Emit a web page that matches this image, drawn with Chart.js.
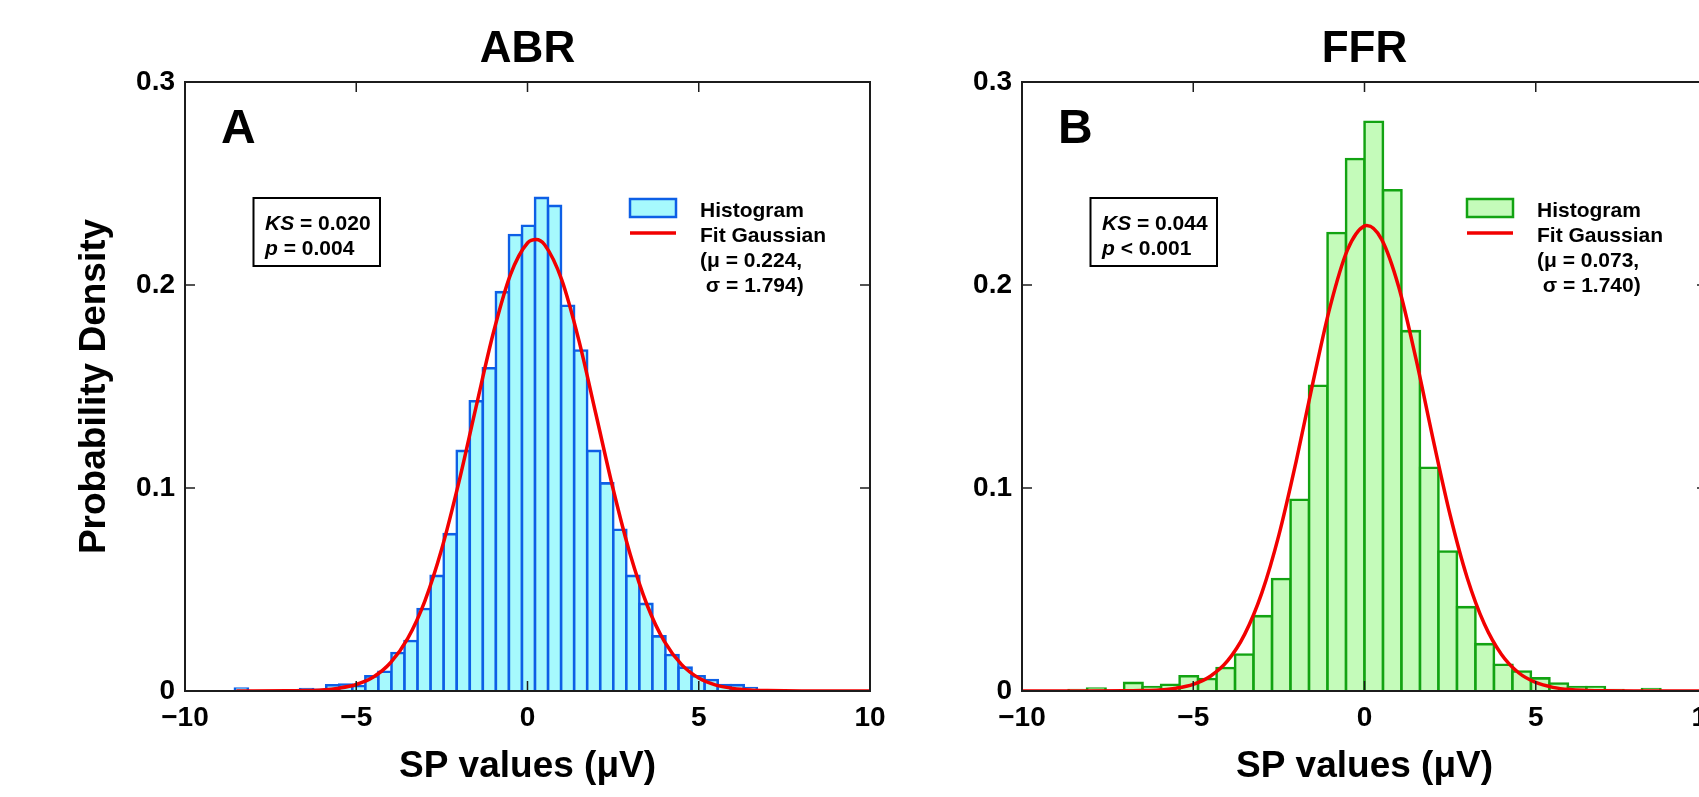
<!DOCTYPE html>
<html>
<head>
<meta charset="utf-8">
<script src="https://cdn.jsdelivr.net/npm/chart.js@4.4.1/dist/chart.umd.min.js"></script>
<style>
html,body{margin:0;padding:0;background:#fff;overflow:hidden;width:1699px;height:797px;}
canvas{position:absolute;top:0;}
#cA{left:0;}
#cB{left:837px;}
</style>
</head>
<body>
<canvas id="cA" width="900" height="797"></canvas>
<canvas id="cB" width="900" height="797"></canvas>
<script>
// ---------- data ----------
const abrBinCenters = [-8.3535,-7.9725,-7.5915,-7.2105,-6.8295,-6.4485,-6.0675,-5.6865,-5.3055,-4.9245,
  -4.5435,-4.1625,-3.7815,-3.4005,-3.0195,-2.6385,-2.2575,-1.8765,-1.4955,-1.1145,
  -0.7335,-0.3525,0.0285,0.4095,0.7905,1.1715,1.5525,1.9335,2.3145,2.6955,
  3.0765,3.4575,3.8385,4.2195,4.6005,4.9815,5.3625,5.7435,6.1245,6.5055];
const abrDensity = [0.0012,0,0,0,0,0.0010,0.0006,0.0028,0.0032,0.0025,
  0.0072,0.0095,0.0187,0.0246,0.0404,0.0567,0.0773,0.1183,0.1427,0.1590,
  0.1965,0.2246,0.2292,0.2429,0.2390,0.1898,0.1677,0.1183,0.1023,0.0794,
  0.0567,0.0429,0.0269,0.0177,0.0115,0.0073,0.0054,0.0029,0.0029,0.0015];
const abrFitX = [-8.5,-8,-7,-6.5,-6,-5.5,-5,-4.5,-4,-3.5,-3,-2.5,-2,-1.5,-1,-0.5,0,0.25,0.5,1,1.5,2,2.5,3,3.5,4,4.5,5,5.5,6,6.5,7,8,10];
const abrFitY = [0,0,0.0001,0.0002,0.0005,0.0014,0.0032,0.0069,0.0139,0.0258,0.0442,0.0702,0.1031,0.1401,0.1762,0.2050,0.2207,0.2224,0.2198,0.2025,0.1727,0.1362,0.0995,0.0672,0.0420,0.0243,0.0130,0.0064,0.0029,0.0013,0.0005,0.0002,0,0];

const ffrBinCenters = [-8.37,-7.83,-7.29,-6.75,-6.21,-5.67,-5.13,-4.59,-4.05,-3.51,
  -2.97,-2.43,-1.89,-1.35,-0.81,-0.27,0.27,0.81,1.35,1.89,
  2.43,2.97,3.51,4.05,4.59,5.13,5.67,6.21,6.75,7.29,7.83,8.37];
const ffrDensity = [0.0005,0.0012,0,0.0040,0.0020,0.0031,0.0073,0.0059,0.0113,0.0180,
  0.0369,0.0552,0.0942,0.1504,0.2256,0.2621,0.2804,0.2467,0.1773,0.1100,
  0.0687,0.0413,0.0231,0.0129,0.0096,0.0062,0.0037,0.0020,0.0020,0.0005,0,0.0010];
const ffrFitX = [-10,-8,-7,-6.5,-6,-5.5,-5,-4.5,-4,-3.5,-3,-2.5,-2,-1.5,-1,-0.5,0,0.07,0.5,1,1.5,2,2.5,3,3.5,4,4.5,5,5.5,6,6.5,7,8,10];
const ffrFitY = [0,0,0.0001,0.0002,0.0005,0.0014,0.0033,0.0073,0.0148,0.0279,0.0482,0.0768,0.1128,0.1524,0.1896,0.2172,0.2291,0.2293,0.2225,0.1990,0.1638,0.1242,0.0867,0.0557,0.0330,0.0180,0.0090,0.0042,0.0018,0.0007,0.0003,0.0001,0,0];

const xTickValues = [-10,-5,0,5,10];
const xTickLabels = ['\u221210','\u22125','0','5','10'];
const yTickValues = [0,0.1,0.2,0.3];
const yTickLabels = ['0','0.1','0.2','0.3'];

const panelTitles = ['ABR','FFR'];
const panelLetters = ['A','B'];
const ksValues = ['0.020','0.044'];
const pValues = ['= 0.004','< 0.001'];
const fitMu = ['0.224','0.073'];
const fitSigma = ['1.794','1.740'];
const xAxisTitle = 'SP values (\u03bcV)';
const yAxisTitle = 'Probability Density';
// ------------------------------------------------------------

const FONT = '"Liberation Sans", Arial, Helvetica, sans-serif';

const annotPlugin = {
  id: 'annot',
  afterDatasetsDraw(chart, args, o) {
    const {ctx, chartArea: ca, scales: {x, y}} = chart;
    ctx.save();
    // inward tick marks on all four sides
    ctx.strokeStyle = '#1c1c1c';
    ctx.lineWidth = 1.5;
    ctx.beginPath();
    xTickValues.forEach(v => {
      const px = x.getPixelForValue(v);
      ctx.moveTo(px, ca.bottom); ctx.lineTo(px, ca.bottom - 10);
      ctx.moveTo(px, ca.top); ctx.lineTo(px, ca.top + 10);
    });
    yTickValues.forEach(v => {
      const py = y.getPixelForValue(v);
      ctx.moveTo(ca.left, py); ctx.lineTo(ca.left + 10, py);
      ctx.moveTo(ca.right, py); ctx.lineTo(ca.right - 10, py);
    });
    ctx.stroke();
    // box
    ctx.lineWidth = 2;
    ctx.strokeRect(ca.left, ca.top, ca.right - ca.left, ca.bottom - ca.top);

    ctx.fillStyle = '#000';
    ctx.textBaseline = 'alphabetic';
    ctx.textAlign = 'left';
    // panel letter
    ctx.font = 'bold 48px ' + FONT;
    ctx.fillText(o.letter, ca.left + 36, ca.top + 61);

    // KS box
    ctx.lineWidth = 2;
    ctx.strokeStyle = '#000';
    ctx.strokeRect(ca.left + 68.5, ca.top + 116, 126.5, 68);
    const tx = ca.left + 80;
    ctx.font = 'italic bold 21px ' + FONT;
    ctx.fillText('KS', tx, ca.top + 148);
    let w = ctx.measureText('KS').width;
    ctx.font = 'bold 21px ' + FONT;
    ctx.fillText(' = ' + o.ks, tx + w, ca.top + 148);
    ctx.font = 'italic bold 21px ' + FONT;
    ctx.fillText('p', tx, ca.top + 173);
    w = ctx.measureText('p').width;
    ctx.font = 'bold 21px ' + FONT;
    ctx.fillText(' ' + o.p, tx + w, ca.top + 173);

    // legend
    const lx = ca.left + 445;
    ctx.fillStyle = o.fill;
    ctx.fillRect(lx, ca.top + 117, 46, 18);
    ctx.strokeStyle = o.border;
    ctx.lineWidth = 2.5;
    ctx.strokeRect(lx, ca.top + 117, 46, 18);
    ctx.strokeStyle = o.red;
    ctx.lineWidth = 3.5;
    ctx.beginPath();
    ctx.moveTo(lx, ca.top + 151); ctx.lineTo(lx + 46, ca.top + 151);
    ctx.stroke();
    ctx.fillStyle = '#000';
    ctx.font = 'bold 21px ' + FONT;
    const ttx = ca.left + 515;
    ctx.fillText('Histogram', ttx, ca.top + 135);
    ctx.fillText('Fit Gaussian', ttx, ca.top + 160);
    ctx.fillText('(\u03bc = ' + o.mu + ',', ttx, ca.top + 185);
    ctx.fillText(' \u03c3 = ' + o.sigma + ')', ttx, ca.top + 210);
    ctx.restore();
  }
};

function makeChart(id, i, centers, density, fitX, fitY, fill, border, showYTitle) {
  const red = '#f20000';
  return new Chart(document.getElementById(id), {
    type: 'bar',
    data: {
      datasets: [
        {
          type: 'line', label: 'Fit Gaussian',
          data: fitX.map((v, k) => ({x: v, y: fitY[k]})),
          borderColor: red, borderWidth: 3.5, pointRadius: 0,
          cubicInterpolationMode: 'monotone', fill: false, order: 1
        },
        {
          type: 'bar', label: 'Histogram',
          data: centers.map((v, k) => ({x: v, y: density[k]})),
          backgroundColor: fill, borderColor: border, borderWidth: 2.6,
          inflateAmount: 1.3, borderSkipped: 'start',
          barPercentage: 1, categoryPercentage: 1, order: 2
        }
      ]
    },
    options: {
      responsive: false, animation: false, devicePixelRatio: 1,
      layout: {padding: {left: 0, right: 30, top: 0, bottom: 0}},
      plugins: {
        legend: {display: false},
        tooltip: {enabled: false},
        title: {
          display: true, text: panelTitles[i], fullSize: false, color: '#000',
          font: {family: FONT, size: 44, weight: 'bold'},
          padding: {top: 23.4, bottom: 5.8}
        },
        annot: {letter: panelLetters[i], ks: ksValues[i], p: pValues[i], mu: fitMu[i], sigma: fitSigma[i], fill: fill, border: border, red: red}
      },
      scales: {
        x: {
          type: 'linear', min: -10, max: 10, offset: false,
          afterBuildTicks: s => { s.ticks = xTickValues.map(v => ({value: v})); },
          afterFit: s => { s.height = 106; },
          grid: {display: false, drawTicks: false},
          border: {display: false},
          ticks: {
            callback: (v, k) => xTickLabels[k], color: '#000',
            font: {family: FONT, size: 28, weight: 'bold'},
            padding: 10, maxRotation: 0, autoSkip: false
          },
          title: {
            display: true, text: xAxisTitle, color: '#000',
            font: {family: FONT, size: 37, weight: 'bold'},
            padding: {top: 0, bottom: 8}
          }
        },
        y: {
          type: 'linear', min: 0, max: 0.3,
          afterBuildTicks: s => { s.ticks = yTickValues.map(v => ({value: v})); },
          afterFit: s => { s.width = 185; },
          grid: {display: false, drawTicks: false},
          border: {display: false},
          ticks: {
            callback: (v, k) => yTickLabels[k], color: '#000',
            font: {family: FONT, size: 28, weight: 'bold'},
            padding: 10, autoSkip: false
          },
          title: {
            display: showYTitle, text: yAxisTitle, color: '#000',
            font: {family: FONT, size: 37, weight: 'bold'},
            padding: {top: 73, bottom: 0}
          }
        }
      }
    },
    plugins: [annotPlugin]
  });
}

makeChart('cA', 0, abrBinCenters, abrDensity, abrFitX, abrFitY, '#a6f9fd', '#0d5fe6', true);
makeChart('cB', 1, ffrBinCenters, ffrDensity, ffrFitX, ffrFitY, '#c4fbba', '#12a312', false);
</script>
</body>
</html>
